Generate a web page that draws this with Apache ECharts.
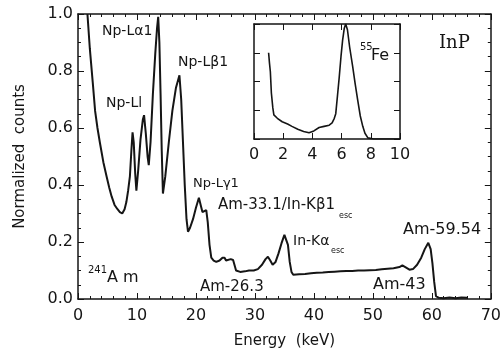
<!DOCTYPE html>
<html>
<head>
<meta charset="utf-8">
<script src="https://cdn.jsdelivr.net/npm/echarts@6/dist/echarts.min.js"></script>
<style>
  html, body { margin: 0; padding: 0; background: #fff; }
  #chart { width: 504px; height: 356px; }
</style>
</head>
<body>
<div id="chart"></div>
<script>
// 241Am spectrum (energy keV, normalized counts)
var amEnergy = [1.6, 2.0, 2.5, 2.9, 3.3, 3.7, 4.3, 4.85, 5.3, 5.7, 6.2, 6.7, 7.1, 7.5, 7.9, 8.2, 8.5, 8.8, 9.05, 9.25,
    9.45, 9.7, 9.9, 10.2, 10.6, 11.0, 11.2, 11.5, 11.8, 12.0, 12.3, 12.7, 13.1, 13.4, 13.6, 13.8, 14.0, 14.2, 14.4, 14.8,
    15.4, 16.0, 16.6, 17.2, 17.5, 17.8, 18.1, 18.4, 18.65, 19.0, 19.5, 20.0, 20.5, 20.8, 21.1, 21.4, 21.75, 22.0, 22.3, 22.6,
    23.0, 23.45, 24.0, 24.5, 24.85, 25.1, 25.4, 25.9, 26.3, 26.6, 26.8, 27.5, 28.3, 29.0, 29.8, 30.5, 31.2, 31.8, 32.2, 32.6,
    33.0, 33.5, 34.0, 34.5, 35.0, 35.3, 35.6, 35.9, 36.2, 36.5, 37.5, 38.5, 39.5, 40.5, 41.5, 42.5, 43.5, 44.5, 45.5, 46.5,
    47.5, 48.5, 49.5, 50.5, 51.5, 52.5, 53.5, 54.5, 55.0, 55.5, 56.2, 56.8, 57.5, 58.2, 58.8, 59.4, 59.8, 60.1, 60.4, 60.7,
    61.2, 62, 63, 64, 65, 66];
var amCounts = [1.0, 0.88, 0.76, 0.66, 0.60, 0.55, 0.48, 0.43, 0.39, 0.36, 0.33, 0.315, 0.305, 0.30, 0.315, 0.34, 0.38, 0.43, 0.52, 0.585,
    0.55, 0.44, 0.38, 0.45, 0.56, 0.63, 0.645, 0.58, 0.50, 0.47, 0.55, 0.72, 0.86, 0.95, 0.99, 0.90, 0.72, 0.52, 0.37, 0.43,
    0.55, 0.66, 0.74, 0.785, 0.70, 0.55, 0.40, 0.28, 0.236, 0.25, 0.28, 0.32, 0.355, 0.33, 0.305, 0.31, 0.312, 0.27, 0.19, 0.145,
    0.135, 0.13, 0.135, 0.145, 0.145, 0.135, 0.13, 0.14, 0.137, 0.115, 0.10, 0.095, 0.097, 0.10, 0.10, 0.105, 0.12, 0.14, 0.148, 0.135,
    0.12, 0.13, 0.16, 0.195, 0.225, 0.23, 0.19, 0.13, 0.095, 0.085, 0.087, 0.088, 0.09, 0.092, 0.093, 0.095, 0.096, 0.097, 0.098, 0.098,
    0.1, 0.1, 0.101, 0.102, 0.104, 0.106, 0.108, 0.112, 0.118, 0.112, 0.103, 0.105, 0.12, 0.145, 0.175, 0.197, 0.175, 0.125, 0.06, 0.01,
    0.004, 0.003, 0.005, 0.003, 0.005, 0.004];

// 55Fe inset spectrum
var feEnergy = [1.0, 1.06, 1.12, 1.19, 1.29, 1.36, 1.6, 1.93, 2.3, 2.6, 3.0, 3.4, 3.77, 4.1, 4.46, 4.8, 5.15, 5.35, 5.5, 5.6,
    5.72, 5.84, 5.96, 6.07, 6.18, 6.28, 6.4, 6.55, 6.76, 6.93, 7.1, 7.28, 7.45, 7.6, 7.8, 8.2, 9.0, 10.0];
var feCounts = [0.75, 0.66, 0.585, 0.40, 0.27, 0.21, 0.18, 0.15, 0.13, 0.11, 0.085, 0.065, 0.055, 0.07, 0.10, 0.11, 0.12, 0.14, 0.18, 0.22,
    0.38, 0.54, 0.72, 0.86, 0.96, 1.0, 0.95, 0.8, 0.63, 0.48, 0.34, 0.2, 0.11, 0.05, 0.01, 0.0, 0.0, 0.0];

function pairs(xs, ys) {
    var out = [];
    for (var i = 0; i < xs.length; i++) out.push([xs[i], ys[i]]);
    return out;
}

var font = '"DejaVu Sans", Verdana, sans-serif';
var ink = '#151515';

// axis helper: ticks inside, no labels unless asked
function axis(opts) {
    var a = {
        type: 'value',
        axisLine: {show: true, onZero: false, lineStyle: {color: ink, width: 1.5}},
        axisTick: {show: true, inside: true, length: 6, lineStyle: {color: ink, width: 1}},
        minorTick: {show: false},
        splitLine: {show: false},
        axisLabel: {show: false}
    };
    for (var k in opts) a[k] = opts[k];
    return a;
}

function label(x, y, text, size) {
    return {type: 'text', x: x, y: y, style: {text: text, font: size + 'px ' + font, fill: ink, verticalAlign: 'middle'}};
}

var myChart = echarts.init(document.getElementById('chart'));

var option = {
    backgroundColor: '#fff',
    animation: false,
    grid: [
        {left: 78, top: 14, right: 12, bottom: 57},
        {left: 254, top: 24, width: 146, height: 115, show: true, backgroundColor: '#fff', borderWidth: 0}
    ],
    xAxis: [
        axis({gridIndex: 0, position: 'bottom', min: 0, max: 70, interval: 10,
            minorTick: {show: true, splitNumber: 5, length: 3, lineStyle: {color: ink}},
            axisLabel: {show: true, color: ink, fontFamily: font, fontSize: 16, margin: 9},
            name: 'Energy  (keV)', nameLocation: 'middle', nameGap: 35,
            nameTextStyle: {color: ink, fontFamily: font, fontSize: 15}}),
        axis({gridIndex: 0, position: 'top', min: 0, max: 70, interval: 10,
            minorTick: {show: true, splitNumber: 5, length: 3, lineStyle: {color: ink}}}),
        axis({gridIndex: 1, position: 'bottom', min: 0, max: 10, interval: 2,
            axisLabel: {show: true, color: ink, fontFamily: font, fontSize: 16, margin: 8}}),
        axis({gridIndex: 1, position: 'top', min: 0, max: 10, interval: 2})
    ],
    yAxis: [
        axis({gridIndex: 0, position: 'left', min: 0, max: 1, interval: 0.2,
            minorTick: {show: true, splitNumber: 4, length: 3, lineStyle: {color: ink}},
            axisLabel: {show: true, color: ink, fontFamily: font, fontSize: 16, margin: 5,
                formatter: function (v) { return v.toFixed(1); }},
            name: 'Normalized  counts', nameLocation: 'middle', nameGap: 50,
            nameTextStyle: {color: ink, fontFamily: font, fontSize: 15}}),
        axis({gridIndex: 0, position: 'right', min: 0, max: 1, interval: 0.2,
            minorTick: {show: true, splitNumber: 4, length: 3, lineStyle: {color: ink}}}),
        axis({gridIndex: 1, position: 'left', min: 0, max: 1, interval: 0.25}),
        axis({gridIndex: 1, position: 'right', min: 0, max: 1, interval: 0.25})
    ],
    series: [
        {
            name: '241Am',
            type: 'line',
            xAxisIndex: 0,
            yAxisIndex: 0,
            showSymbol: false,
            lineStyle: {color: ink, width: 2},
            data: pairs(amEnergy, amCounts)
        },
        {
            name: '55Fe',
            type: 'line',
            xAxisIndex: 2,
            yAxisIndex: 2,
            showSymbol: false,
            lineStyle: {color: ink, width: 1.6},
            data: pairs(feEnergy, feCounts)
        }
    ],
    graphic: [
        label(102, 31, 'Np-Lα1', 14),
        label(178, 62, 'Np-Lβ1', 14),
        label(106, 103, 'Np-Ll', 14),
        label(193, 184, 'Np-Lγ1', 13),
        label(218, 205, 'Am-33.1/In-Kβ1', 15),
        label(339, 216, 'esc', 8),
        label(293, 241, 'In-Kα', 14),
        label(331, 251, 'esc', 8),
        label(403, 230, 'Am-59.54', 16),
        label(373, 285, 'Am-43', 16),
        label(200, 287, 'Am-26.3', 15),
        label(88, 270, '241', 10),
        label(107, 278, 'A m', 16),
        label(360, 47, '55', 10),
        label(371, 56, 'Fe', 16),
        {type: 'text', x: 439, y: 43, style: {text: 'InP', font: '18px "DejaVu Serif", "Liberation Serif", serif', fill: ink, verticalAlign: 'middle'}}
    ]
};

myChart.setOption(option);
</script>
</body>
</html>
